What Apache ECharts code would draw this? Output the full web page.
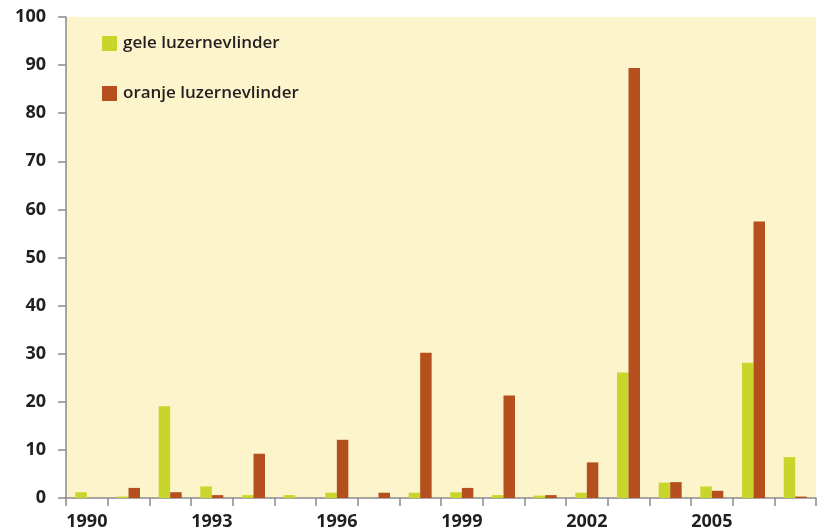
<!DOCTYPE html>
<html>
<head>
<meta charset="utf-8">
<script src="https://cdn.jsdelivr.net/npm/echarts@6/dist/echarts.min.js"></script>
<style>html,body{margin:0;padding:0;background:#fff}#c{width:821px;height:531px}</style>
</head>
<body>
<div id="c"></div>
<script>
const years = ['1990','1991','1992','1993','1994','1995','1996','1997','1998','1999','2000','2001','2002','2003','2004','2005','2006','2007'];
const gele = [1.2, 0.3, 19.1, 2.4, 0.6, 0.6, 1.1, 0, 1.1, 1.2, 0.6, 0.5, 1.1, 26.1, 3.2, 2.4, 28.1, 8.5];
const oranje = [0, 2.1, 1.2, 0.6, 9.2, 0, 12.1, 1.1, 30.2, 2.1, 21.3, 0.6, 7.4, 89.4, 3.3, 1.5, 57.5, 0.3];
const seriesNames = ['gele luzernevlinder', 'oranje luzernevlinder'];
const yTicks = {min: 0, max: 100, interval: 10};

const chart = echarts.init(document.getElementById('c'));
const font = '"Open Sans", "Noto Sans", sans-serif';
chart.setOption({
  animation: false,
  backgroundColor: '#ffffff',
  textStyle: {fontFamily: font},
  grid: {left: 66, right: 5, top: 17, bottom: 33, show: true, backgroundColor: '#fcf5cc', borderWidth: 0},
  legend: {
    orient: 'vertical', left: 97, top: 30, itemWidth: 15, itemHeight: 15, itemGap: 33,
    icon: 'rect',
    textStyle: {fontFamily: font, fontSize: 17, fontWeight: 600, color: '#231f20', padding: [0,0,0,1]},
    data: seriesNames
  },
  xAxis: {
    type: 'category', data: years,
    axisLine: {show: true, lineStyle: {color: '#8a8a8a', width: 1.5}},
    axisTick: {show: true, interval: 0, length: 8, lineStyle: {color: '#8a8a8a', width: 1.5}},
    axisLabel: {interval: 2, fontSize: 18, fontWeight: 700, color: '#231f20', margin: 15, fontFamily: font}
  },
  yAxis: {
    type: 'value', min: yTicks.min, max: yTicks.max, interval: yTicks.interval,
    splitLine: {show: false},
    axisLine: {show: true, lineStyle: {color: '#8a8a8a', width: 1.5}},
    axisTick: {show: true, length: 8, lineStyle: {color: '#8a8a8a', width: 1.5}},
    axisLabel: {fontSize: 18, fontWeight: 700, color: '#231f20', margin: 20, fontFamily: font}
  },
  series: [
    {name: seriesNames[0], type: 'bar', data: gele, barWidth: 11.5, barGap: '0%', itemStyle: {color: '#c8d52b'}},
    {name: seriesNames[1], type: 'bar', data: oranje, barWidth: 11.5, barGap: '0%', itemStyle: {color: '#b5501e'}}
  ]
});
</script>
</body>
</html>
